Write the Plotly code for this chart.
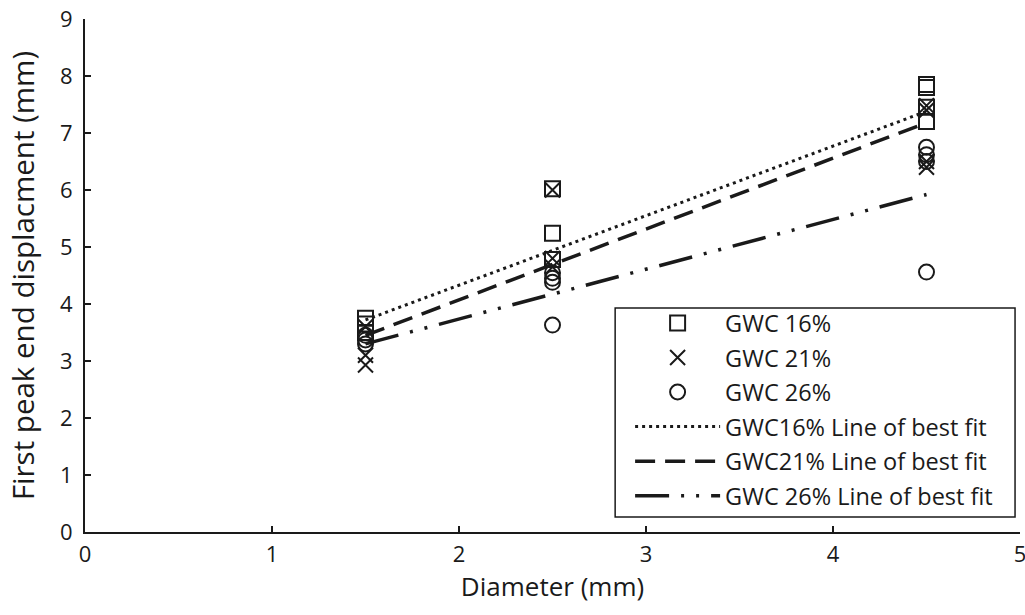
import plotly.graph_objects as go

# ---- data ----
x16 = [1.5, 1.5, 1.5, 2.5, 2.5, 2.5, 4.5, 4.5, 4.5, 4.5]
y16 = [3.75, 3.65, 3.5, 6.02, 5.24, 4.78, 7.85, 7.8, 7.45, 7.2]

x21 = [1.5, 1.5, 1.5, 2.5, 2.5, 2.5, 4.5, 4.5, 4.5, 4.5]
y21 = [2.93, 3.1, 3.6, 6.0, 4.8, 4.65, 7.48, 7.4, 6.5, 6.4]

x26 = [1.5, 1.5, 1.5, 2.5, 2.5, 2.5, 2.5, 4.5, 4.5, 4.5, 4.5]
y26 = [3.3, 3.37, 3.45, 4.55, 4.45, 4.38, 3.63, 6.75, 6.62, 6.5, 4.56]

fit_x = [1.5, 4.5]
fit16 = [3.72, 7.38]
fit21 = [3.45, 7.18]
fit26 = [3.3, 5.92]

names = ["GWC 16%", "GWC 21%", "GWC 26%",
         "GWC16% Line of best fit", "GWC21% Line of best fit", "GWC 26% Line of best fit"]

FONT = "Open Sans"
INK = "#1a1a1a"
fig = go.Figure()

mk = dict(color=INK, size=15, line=dict(color=INK, width=2))
fig.add_trace(go.Scatter(x=x16, y=y16, mode="markers", name=names[0], legendgroup="a",
                         marker=dict(mk, symbol="square-open")))
fig.add_trace(go.Scatter(x=x21, y=y21, mode="markers", name=names[1], legendgroup="b",
                         marker=dict(mk, symbol="x-thin-open")))
fig.add_trace(go.Scatter(x=x26, y=y26, mode="markers", name=names[2], legendgroup="c",
                         marker=dict(mk, symbol="circle-open")))
fig.add_trace(go.Scatter(x=fit_x, y=fit16, mode="lines", name=names[3], legendgroup="d",
                         line=dict(color=INK, width=3, dash="3px,4px")))
fig.add_trace(go.Scatter(x=fit_x, y=fit21, mode="lines", name=names[4], legendgroup="e",
                         line=dict(color=INK, width=3.5, dash="20px,10px")))
fig.add_trace(go.Scatter(x=fit_x, y=fit26, mode="lines", name=names[5], legendgroup="f",
                         line=dict(color=INK, width=3.5, dash="34px,12px,3px,12px,3px,12px")))

axis_common = dict(showline=True, linecolor=INK, linewidth=2, ticks="inside",
                   ticklen=6, tickwidth=1.5, tickcolor=INK, showgrid=False,
                   zeroline=False, mirror=False, automargin=False,
                   ticklabeloverflow="allow",
                   tickfont=dict(family=FONT, size=22, color=INK))

# legend frame drawn as a paper-space rectangle
fig.add_shape(type="rect", xref="paper", yref="paper",
              x0=0.567, x1=0.9947, y0=0.029, y1=0.4366,
              line=dict(color=INK, width=1.5), fillcolor="white", layer="below")

fig.update_layout(
    width=1025, height=615,
    margin=dict(l=85, r=5, t=19, b=83),
    paper_bgcolor="white", plot_bgcolor="white",
    font=dict(family=FONT, color=INK),
    xaxis=dict(axis_common, range=[0, 5], dtick=1, tick0=0, ticklabelstandoff=2,
               title=dict(text="Diameter (mm)", font=dict(family=FONT, size=26), standoff=10)),
    yaxis=dict(axis_common, range=[0, 9], dtick=1, tick0=0, ticklabelstandoff=6,
               title=dict(text="First peak end displacment (mm)", font=dict(family=FONT, size=29.5),
                          standoff=17)),
    legend=dict(x=0.583, y=0.45, xanchor="left", yanchor="top",
                bgcolor="rgba(0,0,0,0)", borderwidth=0,
                font=dict(family=FONT, size=23.5, color=INK),
                itemwidth=85, tracegroupgap=1, traceorder="grouped"),
    showlegend=True,
)

fig.write_html("out.html", post_script="document.body.style.margin='0';",
               config={"displayModeBar": False})
